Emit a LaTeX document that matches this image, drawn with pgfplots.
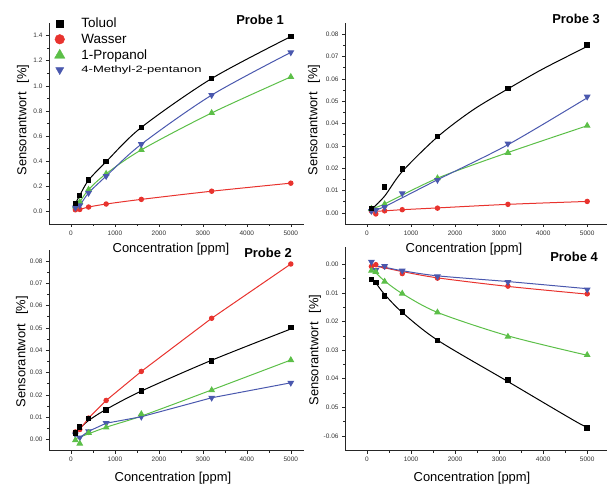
\documentclass[border=0pt]{standalone}
\usepackage{fontspec}
\setmainfont{Liberation Sans}
\usepackage{graphicx}
\usepackage{pgfplots}
\pgfplotsset{compat=1.18}

\definecolor{cRed}{HTML}{E8332E}
\definecolor{cGreen}{HTML}{5CBF48}
\definecolor{cBlue}{HTML}{4A58AE}

\newcommand{\lab}{\fontsize{13}{15}\selectfont}

\pgfplotsset{
  probe/.style={
    scale only axis,
    anchor=south west,
    axis x line*=bottom, axis y line*=left,
    axis line style={line width=0.8bp, black!85},
    tick align=outside,
    major tick length=3bp, minor tick length=1.8bp,
    every tick/.style={line width=0.6bp, black!85},
    minor x tick num=1, minor y tick num=1,
    xtick={0,1000,...,5000},
    xmin=-500,
    ticklabel style={font=\fontsize{6.5}{7}\selectfont, text=black!80},
    /pgf/number format/assume math mode=true,
    xticklabel style={/pgf/number format/1000 sep={}},
    scaled ticks=false,
    clip=false,
  },
  ptol/.style={black, line width=1bp, mark=square*, mark size=2.2bp, mark options={solid}},
  pwas/.style={cRed, line width=1bp, mark=*, mark size=2.2bp, mark options={solid}},
  ppro/.style={cGreen, line width=1bp, mark=triangle*, mark size=3bp, mark options={solid}},
  pmet/.style={cBlue, line width=1bp, mark=triangle*, mark size=3bp, mark options={solid, rotate=180}},
  fit/.style={smooth, no marks, line width=1bp},
}

\begin{document}
\begin{tikzpicture}[x=1bp, y=1bp]
\useasboundingbox (0bp,0bp) rectangle (611bp,487bp);

% ---------------- Probe 1 ----------------
\begin{axis}[probe, at={(49bp,263bp)}, width=255bp, height=201bp,
  xmax=5300, ymin=-0.1, ymax=1.5,
  ytick={0,0.2,...,1.4},
  yticklabel style={/pgf/number format/fixed, /pgf/number format/fixed zerofill, /pgf/number format/precision=1},
  legend style={at={(axis description cs:0.021,1.035)}, anchor=north west, draw=none, fill=none,
    inner sep=0pt, row sep=2bp, nodes={inner sep=1.5bp, anchor=west}},
  legend cell align=left,
  legend image code/.code={\draw[#1] plot coordinates {(0.25cm,0cm)};},
]
\addlegendimage{only marks, mark=square*, black, mark size=3.5bp}
\addlegendentry{\fontsize{13.5}{14}\selectfont\hspace{15bp}Toluol}
\addlegendimage{only marks, mark=*, cRed, mark size=4.8bp}
\addlegendentry{\fontsize{13.5}{14}\selectfont\hspace{15bp}Wasser}
\addlegendimage{only marks, mark=triangle*, cGreen, mark size=6bp}
\addlegendentry{\fontsize{13.5}{14}\selectfont\hspace{15bp}1-Propanol}
\addlegendimage{only marks, mark=triangle*, cBlue, mark size=4.6bp, mark options={rotate=180}}
\addlegendentry{\hspace{15bp}\scalebox{1.42}[1]{\fontsize{9.2}{11}\selectfont 4-Methyl-2-pentanon}}

\addplot[pwas, smooth, forget plot] coordinates {(100,0.013)(200,0.016)(400,0.035)(800,0.059)(1600,0.096)(3200,0.161)(5000,0.225)};
\addplot[ppro, smooth, forget plot] coordinates {(100,0.040)(200,0.075)(400,0.174)(800,0.300)(1600,0.490)(3200,0.784)(5000,1.071)};
\addplot[pmet, smooth, forget plot] coordinates {(100,0.030)(200,0.048)(400,0.147)(800,0.281)(1600,0.535)(3200,0.926)(5000,1.266)};
\addplot[ptol, smooth, forget plot] coordinates {(100,0.062)(200,0.128)(400,0.249)(800,0.396)(1600,0.669)(3200,1.058)(5000,1.392)};
\end{axis}

% ---------------- Probe 3 ----------------
\begin{axis}[probe, at={(345bp,263bp)}, width=262bp, height=201bp,
  xmax=5450, ymin=-0.005, ymax=0.085,
  ytick={0,0.01,...,0.08},
  yticklabel style={/pgf/number format/fixed, /pgf/number format/fixed zerofill, /pgf/number format/precision=2},
]
% fitted curves
\addplot[fit, cRed] coordinates {(100,0.0006)(400,0.0009)(800,0.0014)(1600,0.0022)(3200,0.0038)(5000,0.0051)};
\addplot[fit, cGreen] coordinates {(100,0.0018)(400,0.0040)(1600,0.0155)(3200,0.0270)(5000,0.0390)};
\addplot[fit, cBlue] coordinates {(100,0.0008)(400,0.0028)(1600,0.0148)(3200,0.0305)(5000,0.0515)};
\addplot[fit, black] coordinates {(100,0.0015)(400,0.0075)(800,0.0185)(1600,0.0340)(2400,0.0460)(3200,0.0555)(4000,0.0645)(5000,0.0745)};
% measured points
\addplot[pwas, only marks] coordinates {(100,0.0008)(200,-0.0005)(400,0.0009)(800,0.0014)(1600,0.0021)(3200,0.0038)(5000,0.0051)};
\addplot[ppro, only marks] coordinates {(100,0.0018)(400,0.0039)(1600,0.0155)(3200,0.0269)(5000,0.0390)};
\addplot[pmet, only marks] coordinates {(100,0.0008)(200,0.0012)(400,0.0026)(800,0.0087)(1600,0.0147)(3200,0.0310)(5000,0.0520)};
\addplot[ptol, only marks] coordinates {(100,0.0020)(400,0.0116)(800,0.0197)(1600,0.0342)(3200,0.0556)(5000,0.0751)};
\end{axis}

% ---------------- Probe 2 ----------------
\begin{axis}[probe, at={(49bp,36.3bp)}, width=255bp, height=201bp,
  xmax=5300, ymin=-0.005, ymax=0.085,
  ytick={0,0.01,...,0.08},
  yticklabel style={/pgf/number format/fixed, /pgf/number format/fixed zerofill, /pgf/number format/precision=2},
]
\addplot[fit, black] coordinates {(100,0.0030)(200,0.0050)(400,0.0085)(800,0.0135)(1600,0.0217)(3200,0.0355)(5000,0.0495)};
\addplot[fit, cGreen] coordinates {(100,0.0003)(800,0.0055)(1600,0.0105)(3200,0.0222)(5000,0.0356)};
\addplot[pwas] coordinates {(100,0.0034)(200,0.0045)(400,0.0096)(800,0.0175)(1600,0.0305)(3200,0.0543)(5000,0.0786)};
\addplot[pmet] coordinates {(100,0.0022)(200,0.0009)(400,0.0037)(800,0.0073)(1600,0.0102)(3200,0.0187)(5000,0.0254)};
\addplot[ppro, only marks] coordinates {(100,-0.0003)(200,-0.0018)(400,0.0030)(800,0.0054)(1600,0.0114)(3200,0.0221)(5000,0.0356)};
\addplot[ptol, only marks] coordinates {(100,0.0030)(200,0.0057)(400,0.0094)(800,0.0133)(1600,0.0217)(3200,0.0351)(5000,0.0502)};
\end{axis}

% ---------------- Probe 4 ----------------
\begin{axis}[probe, at={(345bp,36.3bp)}, width=262bp, height=204bp,
  xmax=5450, ymin=-0.0652, ymax=0.0062,
  ytick={-0.06,-0.05,-0.04,-0.03,-0.02,-0.01,0},
  yticklabels={-0.06,0.05,0.04,0.03,0.02,0.01,0.00},
]
\addplot[fit, cRed] coordinates {(100,-0.0005)(400,-0.0012)(800,-0.0025)(1600,-0.0047)(3200,-0.0077)(5000,-0.0104)};
\addplot[fit, cBlue] coordinates {(100,-0.0003)(400,-0.0010)(800,-0.0022)(1600,-0.0040)(3200,-0.0060)(5000,-0.0085)};
\addplot[fit, cGreen] coordinates {(100,-0.0022)(200,-0.0030)(400,-0.0058)(800,-0.0102)(1600,-0.0168)(3200,-0.0250)(5000,-0.0318)};
\addplot[fit, black] coordinates {(100,-0.0048)(200,-0.0065)(400,-0.0105)(800,-0.0168)(1600,-0.0265)(3200,-0.0410)(4800,-0.0555)(5000,-0.0565)};
\addplot[pwas, only marks] coordinates {(100,-0.0007)(200,-0.0001)(400,-0.0008)(800,-0.0032)(1600,-0.0048)(3200,-0.0076)(5000,-0.0103)};
\addplot[pmet, only marks] coordinates {(100,0.0009)(200,-0.0020)(400,-0.0006)(800,-0.0022)(1600,-0.0042)(3200,-0.0062)(5000,-0.0088)};
\addplot[ppro, only marks] coordinates {(100,-0.0022)(200,-0.0026)(400,-0.0060)(800,-0.0102)(1600,-0.0168)(3200,-0.0253)(5000,-0.0317)};
\addplot[ptol, only marks] coordinates {(100,-0.0053)(200,-0.0064)(400,-0.0110)(800,-0.0166)(1600,-0.0266)(3200,-0.0405)(5000,-0.0572)};
\end{axis}

% panel titles
\node[font=\fontsize{13}{15}\selectfont\bfseries] at (260bp,467bp) {Probe 1};
\node[font=\fontsize{13}{15}\selectfont\bfseries] at (576bp,468bp) {Probe 3};
\node[font=\fontsize{13}{15}\selectfont\bfseries] at (268bp,234bp) {Probe 2};
\node[font=\fontsize{13}{15}\selectfont\bfseries] at (574bp,230bp) {Probe 4};

% axis titles
\node[font=\lab] at (171bp,238bp) {Concentration [ppm]};
\node[font=\lab] at (464bp,238bp) {Concentration [ppm]};
\node[font=\lab] at (173bp,9bp) {Concentration [ppm]};
\node[font=\lab] at (472bp,9bp) {Concentration [ppm]};
\node[font=\lab, rotate=90] at (23bp,367bp) {Sensorantwort\hspace{9bp}[\%]};
\node[font=\lab, rotate=90] at (314bp,367bp) {Sensorantwort\hspace{9bp}[\%]};
\node[font=\lab, rotate=90] at (22bp,135.5bp) {Sensorantwort\hspace{9bp}[\%]};
\node[font=\lab, rotate=90] at (315bp,137bp) {Sensorantwort\hspace{9bp}[\%]};
\end{tikzpicture}
\end{document}
